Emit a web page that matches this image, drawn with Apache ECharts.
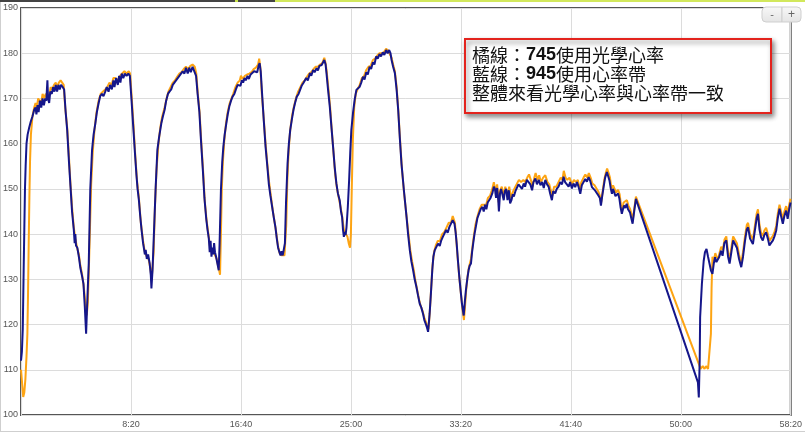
<!DOCTYPE html>
<html>
<head>
<meta charset="utf-8">
<script src="https://cdn.jsdelivr.net/npm/echarts@6/dist/echarts.min.js"></script>
<style>
html,body{margin:0;padding:0;background:#fff;}
#chart{width:805px;height:432px;}
</style>
</head>
<body>
<div id="chart"></div>
<script>
// time in seconds, heart rate in bpm
const blueSeries = [
[0,112],[4,114],[8,119],[12,132],[15,141],[18,150],[21,155],[25,160],[30,162],[37,163.5],[45,165],[52,166],[60,167.5],[66,168],[70,166.5],[75,168.5],[80,167],[86,169.5],[92,168],[98,170],[104,168.5],[110,170],[115,169.5],[120,174],[123,170],[128,169],[133,171.5],[140,171],[146,172.5],[152,171.5],[158,173],[164,171.5],[170,173],[176,172],[182,173],[190,172.5],[196,172],
[203,167],[210,163],[218,156],[225,150.5],[232,145],[240,141],[244,138],[247,140],[250,137.5],[256,137],[263,135],[270,132.5],[278,130.6],[284,129],[290,124],[296,118],[302,126],[308,133.5],[315,150],[323,158.6],[330,162],[338,164.5],[345,167],[353,169],[360,170.5],[368,171],[375,170.5],[383,171.5],[390,172.5],[398,171.5],[405,173],[413,172],[420,174],[425,172.5],[432,174.5],[440,173],[446,175],[452,173.5],[458,175.5],[465,174.5],[472,175.5],[480,175],[488,175.5],[495,175],
[502,170],[510,164],[518,158],[525,153],[530,150],[536,147.5],[542,144],[548,141],[555,138],[560,136.5],[563,135.5],[567,136.5],[572,134.5],[578,135.5],[585,133.5],[590,131],[593,128],[598,132],[605,141],[612,150],[620,158.6],[628,161.5],[638,164.5],[645,166],[653,167.5],[660,169.5],[668,171],[675,171.5],[683,172],[690,173],[698,173],[705,174],[713,174],[720,175],[728,175],[735,176],[743,175.5],[750,176.8],[758,175.5],[765,176.8],[772,175.8],[780,177],[788,176.8],[796,175],
[803,171],[811,167],[818,161],[827,154],[834,148],[842,143.5],[848,141],[854,139],[858,136],[862,138.5],[866,135],[870,137],[874,135.5],[878,138],[882,136],[887,135],[893,133.5],[899,132],[903,138],[909,149.7],[915,156],[920,159.3],[926,162],[932,164],[940,166.5],[947,168.2],[955,169.5],[962,170.4],[970,171],[977,172],[985,173],[992,173.4],[998,172.8],[1004,174],[1010,173.5],[1016,174.5],[1022,174],[1030,175],[1036,174.3],[1044,175.3],[1052,175],[1060,176],[1067,176.3],[1074,175.8],[1080,177.2],[1085,177.8],
[1090,176],[1097,170.4],[1104,165],[1112,159.3],[1120,155],[1127,151],[1134,148.5],[1142,146],[1150,143.5],[1157,141.5],[1163,139],[1169,137],[1175,136],[1180,135.3],[1185,136.2],[1190,135.3],[1195,135.3],[1200,138],[1205,147],[1212,155.6],[1218,160],[1224,163],[1232,165.5],[1239,167.5],[1246,169],[1254,170.4],[1262,171],[1269,171.9],[1276,172.8],[1284,173.4],[1290,173],[1297,174.5],[1304,174],[1314,175.6],[1320,175],[1328,176.3],[1335,175.8],[1344,176.7],[1350,176.2],[1357,177.2],[1363,176.8],[1367,177.4],[1372,177],[1379,178.5],[1385,177.5],
[1389,175.6],[1396,172],[1404,168.2],[1411,164],[1419,159.3],[1426,155],[1434,151.2],[1441,149],[1449,147.5],[1455,145],[1460,143.8],[1464,141],[1468,139.4],[1472,140.5],[1476,139.8],[1480,141.5],[1486,146],[1492,152],[1497,158],[1502,163],[1510,167],[1517,169.7],[1525,171.9],[1532,171.5],[1540,172.6],[1547,173.5],[1555,174.8],[1562,174.2],[1570,175.8],[1577,175.3],[1585,177],[1592,176.5],[1600,178],[1607,177.5],[1615,179.3],[1622,178.8],[1630,179.8],[1637,179.3],[1645,180.2],[1652,179.6],[1660,180.7],[1667,180],[1674,180.7],[1680,180],
[1685,178.5],[1692,177],[1700,175.6],[1708,171.9],[1715,167.5],[1723,160.8],[1730,155.6],[1741,149.7],[1753,143.8],[1760,140],[1768,136.4],[1775,134],[1783,132],[1790,130],[1798,128.3],[1805,126.5],[1813,124.6],[1820,123.8],[1828,122.4],[1834,121],[1840,120.2],[1845,119.5],[1851,118.4],[1858,122.4],[1864,127],[1870,132],[1875,135],[1881,136.4],[1888,136.8],[1896,137.9],[1904,137.4],[1910,138.5],[1918,139.4],[1925,139.8],[1933,140.9],[1940,140.3],[1948,141.6],[1955,141.2],[1963,143.1],[1967,143.5],[1971,142.3],[1976,140.5],[1981,137.9],[1987,134],[1993,130.5],[2000,127],[2005,124.6],[2013,122],
[2018,125],[2023,127.6],[2029,130],[2035,132],[2040,133],[2046,133.5],[2051,136],[2056,137.9],[2062,140],[2068,141.6],[2075,143.5],[2083,144.6],[2090,145.5],[2098,146],[2104,145],[2110,146.5],[2116,145.5],[2122,147],[2128,146.8],[2135,148],[2143,149],[2150,150.5],[2155,150],[2160,148],[2165,150.2],[2170,147.5],[2173,145],[2178,149],[2183,150],[2188,149.7],[2195,147.5],[2200,149.5],[2206,150],[2212,147.5],[2218,149.7],[2224,146.8],[2230,147.5],[2236,148.8],[2241,148.3],[2248,149.5],[2256,149.7],[2262,151],[2271,150.8],[2278,150],[2286,151.2],[2292,150.5],[2300,152],[2309,152.3],[2316,151],[2324,149.7],[2330,151.5],[2339,152.3],[2346,151],[2354,152],[2362,150.8],[2370,151.5],[2377,150.2],[2384,152],[2392,151],[2399,150.5],[2406,149],[2414,147.5],[2420,149.5],[2429,149],[2436,150],[2444,150.5],[2452,151.5],[2460,151],[2467,152.7],[2474,151.5],[2482,151.2],[2490,150.5],[2497,151.5],[2505,150.1],
[2512,151.2],[2520,150.4],[2528,151.5],[2535,150.5],[2543,148.9],[2550,150.8],[2558,151.5],[2566,152.2],[2573,151.6],[2581,152.6],[2588,151.8],[2596,150.4],[2604,150.6],[2611,149.6],[2618,149.8],[2626,148.5],[2632,148],[2637,146.3],[2643,148.5],[2649,150.4],[2656,152.5],[2664,153.7],[2670,152.8],[2676,151.8],[2682,150],[2687,148.9],[2692,150],[2697,149.6],[2703,148.4],[2709,148.2],[2715,149],[2721,147.8],[2726,146],[2732,144.5],[2737,145.5],[2742,146.3],[2748,145.8],[2754,146.7],[2760,145.5],[2769,144.8],[2775,143.5],[2781,142.3],[2788,145],[2796,147.8],
[3078,107.2],[3082,103.9],[3086,112],[3088,121.6],[3096,129],[3104,134],[3110,136],[3117,136.7],[3124,135],[3131,133.4],[3137,132],[3144,131.2],[3150,133.5],[3156,134.9],[3162,133.8],[3168,133.4],[3175,135],[3183,136.3],[3190,135.2],[3198,138],[3207,138.6],[3215,135],[3222,133.5],[3230,136],[3238,138.6],[3245,138.5],[3255,137],[3265,134.5],[3275,132.7],[3283,135],[3292,138.5],[3300,141],[3306,141.5],[3315,139],[3328,137.8],[3336,140.5],[3345,143.5],[3351,144.5],[3358,141],[3365,139.3],[3373,138.6],[3380,139.8],[3388,140.4],[3396,139],[3403,137.5],[3410,138],[3419,138.6],[3426,139.5],[3434,140.8],[3441,143.5],[3449,145.6],[3456,144],[3464,142.3],[3471,144],[3479,145.2],[3486,143.4],[3493,145.5],[3499,147]
];
const orangeSeries = [
[0,110],[5,107],[10,104],[15,105],[20,108],[25,113],[29,118],[32,127],[35,138],[38,148],[41,156],[45,162],[52,166],[60,168],[66,169],[72,168],[78,170],[86,170],[92,169],[98,171],[106,170],[112,171],[120,171],[128,170.5],[135,172.5],[142,172],[150,173],[158,173.5],[165,172.5],[172,173.5],[180,174],[188,174],[194,173],
[201,168],[210,163.5],[218,157],[225,151],[232,146],[240,141.5],[247,139],[255,137],[263,135.5],[270,133],[278,131],[285,128.5],[292,125],[299,122],[304,125],[309,133],[314,142],[319,151],[326,158],[334,163],[342,166.5],[353,169.5],[362,171],[372,171.5],[383,172],[392,172.5],[402,173.5],[412,173],[420,174.5],[430,174.5],[440,174],[450,175],[460,175.5],[470,176],[480,175.5],[490,176],[496,175.5],
[503,170.5],[511,164.5],[520,157],[528,151.5],[536,148],[545,142.5],[555,138.5],[563,136],[572,135],[580,134.5],[588,132.5],[594,130],[598,130],[603,136],[609,146],[616,154],[624,159.5],[633,163.5],[642,166],[653,168],[662,170],[670,171.5],[680,172.5],[690,173.5],[700,174],[710,174.8],[720,175.5],[730,175.8],[740,176.5],[750,177],[760,176.5],[770,177.2],[780,177.5],[790,177],[797,175.5],
[804,171],[812,167],[820,160],[828,154],[836,147],[844,143],[852,140],[860,137],[868,136.5],[876,136],[884,136],[890,134.5],[896,133],[901,132],[905,131],[909,140],[913,150],[918,156],[924,160.5],[932,164.5],[940,167],[948,168.8],[957,170],[965,171],[975,172.5],[985,173.5],[995,174],[1000,175],[1008,174.3],[1018,175],[1028,175.3],[1038,175.5],[1048,175.8],[1058,176.5],[1068,176.8],[1078,177.5],[1083,178.8],
[1088,177],[1095,171],[1103,166],[1112,160],[1120,155.5],[1128,151.5],[1136,148.5],[1144,145.5],[1152,143],[1160,140.5],[1168,137.5],[1176,135.8],[1184,135.3],[1192,135],[1198,135.3],[1202,135.5],[1206,142],[1211,152],[1217,158.5],[1224,163],[1232,166],[1240,168],[1250,170],[1260,171.5],[1270,172.5],[1280,173.5],[1290,174],[1300,174.8],[1310,175.5],[1320,175.8],[1330,176.5],[1340,177],[1350,177],[1360,177.5],[1370,177.8],[1379,179],
[1385,177.8],[1390,176],[1397,172.5],[1405,168.5],[1413,163],[1421,158],[1429,153],[1437,150],[1445,148],[1453,146],[1460,144],[1468,141],[1476,140],[1484,139.5],[1490,138],[1496,137],[1500,140],[1504,150],[1509,161],[1515,168],[1522,171],[1530,172],[1540,173],[1550,174.5],[1560,175],[1570,176.3],[1580,177],[1590,177.2],[1600,178.5],[1610,178.8],[1620,179.5],[1630,180],[1640,180],[1650,180.2],[1660,181],[1670,180.5],[1678,180.5],
[1685,179],[1692,177.5],[1700,176],[1708,172.5],[1716,167],[1724,160.5],[1732,154.5],[1742,149],[1754,143.5],[1762,140],[1770,136.5],[1778,134],[1786,132],[1794,129.5],[1802,127.5],[1810,125.5],[1818,124],[1826,123],[1834,121.5],[1842,120.5],[1848,119.5],[1853,119],[1859,123],[1865,128],[1871,133],[1878,136],[1886,137.5],[1895,138.5],[1905,138.5],[1915,140],[1925,140.5],[1935,141.5],[1945,142.5],[1955,142.5],[1963,144],[1968,144.2],[1973,142.5],[1979,139],[1985,135],[1992,131],[2000,127],[2007,123.5],[2014,121],
[2019,124],[2024,127.5],[2030,130.5],[2036,132.5],[2046,134.5],[2056,138.5],[2066,142],[2076,144],[2085,145.5],[2095,146.5],[2105,146.5],[2115,146.5],[2123,148],[2133,148.5],[2143,150],[2150,151.5],[2158,149.5],[2165,151],[2172,147],[2178,149.5],[2186,150.5],[2194,148.5],[2202,150.5],[2212,148.5],[2220,150.5],[2228,148],[2238,149.5],[2248,150.5],[2256,150.5],[2264,152],[2274,151.5],[2284,152],[2292,151.5],[2302,152.5],[2310,153.2],[2318,152],[2326,150.5],[2334,152.5],[2340,153.5],[2348,152],[2356,153],[2364,151.5],[2374,152.5],[2384,153],[2394,151.5],[2402,151],[2410,149.5],[2416,148.5],[2424,150.5],[2434,150.5],[2444,151.5],[2454,152.5],[2462,152],[2468,154],[2476,152.5],[2484,152],[2494,152.5],[2505,151],
[2514,152],[2524,151.5],[2532,152],[2540,150],[2548,151.5],[2558,152.5],[2566,153.2],[2575,152.5],[2582,153.5],[2590,152.5],[2598,151.2],[2608,150.8],[2616,150.5],[2626,149.3],[2632,148.5],[2638,147],[2645,149.5],[2652,152],[2659,153.5],[2665,154.5],[2672,153.5],[2678,152.5],[2685,150],[2692,150.8],[2698,150.5],[2706,149.2],[2715,149.8],[2722,148.8],[2728,146.5],[2734,145.5],[2740,147],[2748,146.6],[2755,147.5],[2762,146.3],[2770,145.5],[2777,144.2],[2782,143.2],[2789,145.8],[2796,148.3],
[3082,111.3],[3090,110.2],[3100,110.8],[3108,110.2],[3115,110.8],[3124,110.2],[3132,110.5],[3137,118],[3140,128],[3144,135],[3150,134],[3157,135.8],[3163,135],[3170,134.5],[3177,136],[3184,137.2],[3191,136.5],[3199,138.8],[3207,139.5],[3215,136],[3222,134.5],[3230,137],[3238,139.5],[3246,139.5],[3255,138],[3265,135.5],[3275,133.5],[3283,136],[3292,139.5],[3300,142],[3306,142.5],[3315,140],[3328,138.8],[3336,141.5],[3345,144.5],[3351,145.5],[3358,142],[3365,140.3],[3373,139.6],[3380,140.8],[3388,141.4],[3396,140],[3403,138.5],[3410,139],[3419,139.6],[3426,140.5],[3434,141.8],[3441,144.5],[3449,146.5],[3456,145],[3464,143.3],[3471,145],[3479,146.2],[3486,144.4],[3493,146.5],[3499,147.8]
];
const noteLines = ['橘線：', '745', '使用光學心率', '藍線：', '945', '使用心率帶', '整體來看光學心率與心率帶一致'];
const xRange = [0, 3500];
const xStep = 500;
const yRange = [100, 190];
const yStep = 10;

function fmtTime(v) {
  if (v === 0) return '';
  const m = Math.floor(v / 60), s = Math.round(v % 60);
  return m + ':' + (s < 10 ? '0' + s : s);
}

const chart = echarts.init(document.getElementById('chart'), null, {renderer: 'canvas'});
chart.setOption({
  animation: false,
  backgroundColor: '#fff',
  grid: {left: 20, right: 8, top: 8, bottom: 17, show: true, borderColor: '#555', borderWidth: 2, backgroundColor: '#fff'},
  xAxis: {
    type: 'value', min: xRange[0], max: xRange[1], interval: xStep,
    axisLine: {show: false}, axisTick: {show: false},
    axisLabel: {formatter: fmtTime, color: '#555', fontSize: 9, fontFamily: 'Liberation Sans', margin: 5, showMaxLabel: true},
    splitLine: {show: true, lineStyle: {color: '#dcdcdc', width: 1}}
  },
  yAxis: {
    type: 'value', min: yRange[0], max: yRange[1], interval: yStep,
    axisLine: {show: false}, axisTick: {show: false},
    axisLabel: {color: '#555', fontSize: 9, fontFamily: 'Liberation Sans', margin: 3},
    splitLine: {show: true, lineStyle: {color: '#dcdcdc', width: 1}}
  },
  series: [
    {type: 'line', data: orangeSeries, showSymbol: false, lineStyle: {color: '#FDA413', width: 2}, itemStyle: {color: '#FDA413'}, z: 2},
    {type: 'line', data: blueSeries, showSymbol: false, lineStyle: {color: '#15168A', width: 2}, itemStyle: {color: '#15168A'}, z: 3}
  ],
  graphic: [
    {type: 'rect', shape: {x: 0, y: 0, width: 275, height: 2}, style: {fill: '#444'}, z: 100},
    {type: 'rect', shape: {x: 235, y: 0, width: 3, height: 2}, style: {fill: '#c9e34a'}, z: 101},
    {type: 'rect', shape: {x: 275, y: 0, width: 530, height: 2}, style: {fill: '#d2e85c'}, z: 100},
    {type: 'rect', shape: {x: 0, y: 2, width: 1, height: 430}, style: {fill: '#cfcfcf'}, z: 100},
    {type: 'rect', shape: {x: 0, y: 431, width: 805, height: 1}, style: {fill: '#cfcfcf'}, z: 100},
    {type: 'rect', shape: {x: 465, y: 39, width: 306, height: 74}, style: {fill: '#fff', stroke: '#e3231d', lineWidth: 2, shadowBlur: 5, shadowColor: 'rgba(0,0,0,0.45)', shadowOffsetX: 2, shadowOffsetY: 3}, z: 110},
    {type: 'text', x: 472, y: 55, z: 111, style: {text: '{a|' + noteLines[0] + '}{b|' + noteLines[1] + '}{a|' + noteLines[2] + '}', verticalAlign: 'middle', rich: {a: {fontSize: 18, fontFamily: 'Noto Sans CJK TC', fill: '#111'}, b: {fontSize: 18, fontWeight: 'bold', fontFamily: 'Liberation Sans', fill: '#111'}}}},
    {type: 'text', x: 472, y: 74.5, z: 111, style: {text: '{a|' + noteLines[3] + '}{b|' + noteLines[4] + '}{a|' + noteLines[5] + '}', verticalAlign: 'middle', rich: {a: {fontSize: 18, fontFamily: 'Noto Sans CJK TC', fill: '#111'}, b: {fontSize: 18, fontWeight: 'bold', fontFamily: 'Liberation Sans', fill: '#111'}}}},
    {type: 'text', x: 472, y: 93.5, z: 111, style: {text: noteLines[6], verticalAlign: 'middle', fontSize: 18, fontFamily: 'Noto Sans CJK TC', fill: '#111'}},
    {type: 'rect', shape: {x: 762, y: 7, width: 20, height: 15, r: [4, 0, 0, 4]}, style: {fill: new echarts.graphic.LinearGradient(0, 0, 0, 1, [{offset: 0, color: '#f8f8f8'}, {offset: 1, color: '#e4e4e4'}]), stroke: '#cfcfcf', lineWidth: 1}, z: 120},
    {type: 'rect', shape: {x: 782, y: 7, width: 19, height: 15, r: [0, 4, 4, 0]}, style: {fill: new echarts.graphic.LinearGradient(0, 0, 0, 1, [{offset: 0, color: '#f8f8f8'}, {offset: 1, color: '#e4e4e4'}]), stroke: '#cfcfcf', lineWidth: 1}, z: 120},
    {type: 'text', x: 772, y: 14.5, z: 121, style: {text: '-', align: 'center', verticalAlign: 'middle', fontSize: 11, fontFamily: 'Liberation Sans', fill: '#666'}},
    {type: 'text', x: 791.5, y: 14.5, z: 121, style: {text: '+', align: 'center', verticalAlign: 'middle', fontSize: 12, fontFamily: 'Liberation Sans', fill: '#666'}}
  ]
});
</script>
</body>
</html>
